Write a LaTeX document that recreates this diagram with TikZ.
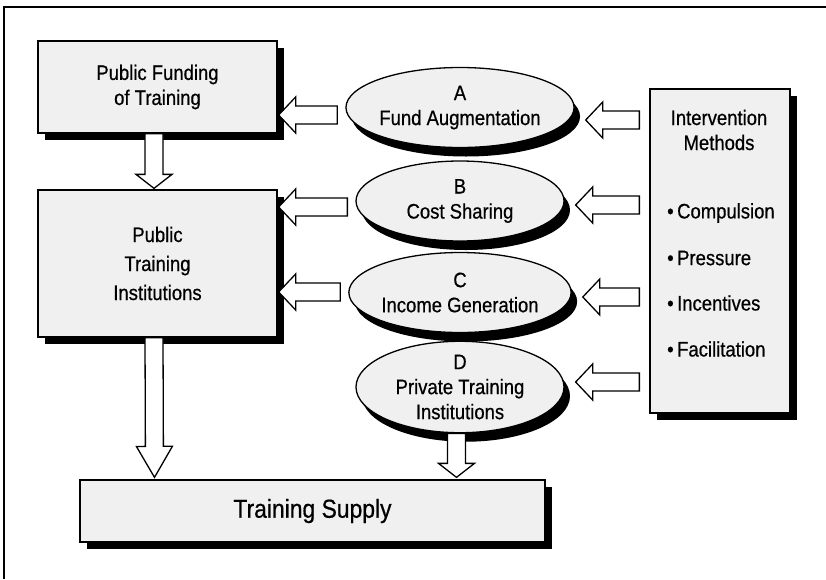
\documentclass[tikz,border=0pt]{standalone}
\usepackage{fontspec}
\setmainfont{Liberation Sans}[FakeStretch=0.88, FakeBold=0.6]
\usepackage{tikz}
\usetikzlibrary{shapes.geometric}
\usetikzlibrary{shadows}
\usetikzlibrary{calc}
\usetikzlibrary{positioning}

% block arrow from tail (#2) to tip (#3), head length #1
\newcommand{\blockarrow}[3][17pt]{%
  \draw[barrow] let \p1=(#2), \p2=(#3), \p3=($(#3)!#1!(#2)$) in
    ($(\p1)!9pt!90:(\p2)$) -- ($(\p3)!9pt!-90:(\p1)$) --
    ($(\p3)!18pt!-90:(\p1)$) -- (\p2) -- ($(\p3)!18pt!90:(\p1)$) --
    ($(\p3)!9pt!90:(\p1)$) -- ($(\p1)!9pt!-90:(\p2)$) -- cycle;}

\begin{document}
\begin{tikzpicture}[
  x=1pt, y=-1pt,
  every node/.style={font=\fontsize{21}{25}\selectfont},
  box/.style={rectangle, draw, line width=1.3pt, fill=gray!12, inner sep=0pt,
    align=center, drop shadow={shadow xshift=7pt, shadow yshift=-7pt, fill=black, opacity=1}},
  method/.style={ellipse, draw, line width=1.3pt, fill=gray!12, inner sep=0pt,
    minimum width=208pt, minimum height=80pt, align=center,
    drop shadow={shadow xshift=6pt, shadow yshift=-9pt, fill=black, opacity=1}},
  barrow/.style={draw, line width=1.3pt, fill=white, line join=miter},
  item/.style={anchor=west, inner sep=0pt},
]
  \useasboundingbox (0,0) rectangle (826,579);
  \draw[line width=1.3pt] (4,579) -- (4,7) -- (826,7);

  % Boxes
  \node[box, minimum width=239pt, minimum height=92pt] (fund) at (157.5, 87)
    {Public Funding\\of Training};
  \node[box, minimum width=239pt, minimum height=147pt,
    font=\fontsize{21}{29}\selectfont] (inst) at (157.5, 263.5)
    {Public\\Training\\Institutions};
  \node[box, minimum width=465pt, minimum height=62pt,
    font=\fontsize{26}{30}\selectfont] (supply) at (312.5, 511) {Training Supply};
  \node[box, minimum width=140pt, minimum height=324pt] (meth) at (720, 251) {};

  % Methods
  \node[method] (ea) at (460, 107.5) {A\\Fund Augmentation};
  \node[method] (eb) at (460, 201)   {B\\Cost Sharing};
  \node[method] (ec) at (460, 292.5) {C\\Income Generation};
  \node[method] (ed) at (460, 387)   {D\\Private Training\\Institutions};

  % Intervention list
  \node[align=center, inner sep=0pt] (mhead) at (719, 130) {Intervention\\Methods};
  \node[item] (m1) at (667, 213) {\textbullet\,Compulsion};
  \node[item] (m2) at (667, 258) {\textbullet\,Pressure};
  \node[item] (m3) at (667, 303) {\textbullet\,Incentives};
  \node[item] (m4) at (667, 349) {\textbullet\,Facilitation};

  % Arrows
  \blockarrow[14pt]{$(fund.south)+(-3.5,0)$}{$(inst.north)+(-3.5,-1)$}
  \blockarrow[31pt]{$(inst.south)+(-3.5,0)$}{$(supply.north)+(-158,-2)$}
  \blockarrow[14pt]{$(ed.south)+(-3.5,0)$}{$(supply.north)+(144,-2)$}

  \blockarrow{$(ea.west)+(-8,7.5)$}{$(fund.east)+(1,28)$}
  \blockarrow{$(eb.west)+(-8,6)$}{$(inst.east)+(1,-56.5)$}
  \blockarrow{$(ec.west)+(-8,-0.5)$}{$(inst.east)+(1,28.5)$}

  \blockarrow{$(meth.west|-ea)+(-10,12.5)$}{$(ea.east)+(11,12.5)$}
  \blockarrow{$(meth.west|-eb)+(-10,4)$}{$(eb.east)+(11,4)$}
  \blockarrow{$(meth.west|-ec)+(-10,4.5)$}{$(ec.east)+(11,4.5)$}
  \blockarrow{$(meth.west|-ed)+(-10,-5)$}{$(ed.east)+(11,-5)$}
\end{tikzpicture}
\end{document}
